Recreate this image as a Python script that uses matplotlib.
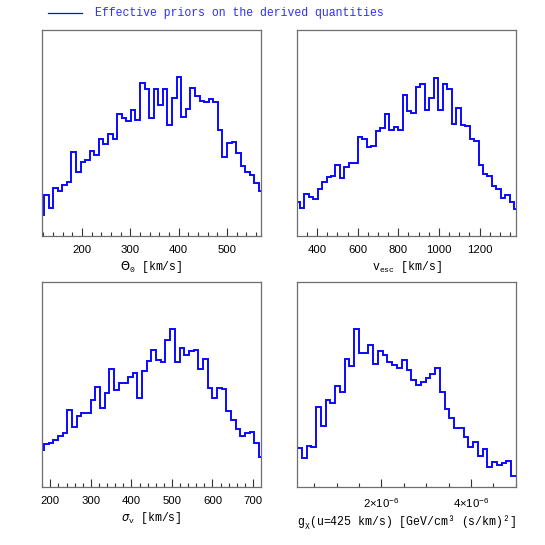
import numpy as np
import matplotlib
matplotlib.use("Agg")
import matplotlib.pyplot as plt
from matplotlib.ticker import MultipleLocator, FixedLocator, FuncFormatter

# histogram heights (arbitrary units)
theta0_counts = [64, 124, 84, 145, 134, 152, 162, 252, 192, 222, 227, 255, 242, 292, 275,
                 307, 290, 364, 352, 345, 377, 347, 457, 440, 352, 440, 392, 440, 332, 414,
                 475, 357, 380, 442, 420, 405, 402, 409, 402, 317, 236, 280, 282, 249, 209,
                 192, 184, 160, 135]
vesc_counts = [102, 85, 125, 115, 110, 140, 160, 177, 180, 212, 172, 207, 219, 219, 295,
               290, 265, 268, 313, 323, 365, 317, 325, 317, 422, 373, 367, 445, 455, 375,
               413, 473, 377, 455, 440, 333, 383, 330, 328, 290, 285, 212, 185, 180, 150,
               140, 112, 122, 102, 80]
sigmav_counts = [112, 130, 132, 142, 152, 163, 230, 180, 212, 222, 222, 262, 300, 238, 283,
                 355, 290, 313, 313, 330, 343, 268, 348, 377, 412, 380, 375, 440, 475, 375,
                 417, 395, 408, 410, 353, 385, 298, 267, 297, 295, 228, 200, 173, 152, 162,
                 165, 133, 90]
gchi_counts = [117, 87, 124, 119, 240, 182, 261, 251, 302, 284, 382, 362, 472, 400, 400,
               424, 367, 407, 394, 375, 364, 357, 379, 350, 320, 305, 315, 327, 337, 357,
               285, 232, 205, 177, 175, 150, 119, 135, 92, 115, 59, 74, 67, 72, 77, 32]

# binning (first edge, bin width) and plotted x ranges
theta0_bins = (111.7, 9.47)
vesc_bins = (292.6, 22.0)
sigmav_bins = (172.8, 11.53)
gchi_range = (0.112e-6, 5.007e-6)

theta0_xlim = (117, 570.5)
vesc_xlim = (301.4, 1379)
sigmav_xlim = (179.4, 719.8)

blue = '#0a0aff'
mono = 'Liberation Mono'
sans = 'Liberation Sans'
plt.rcParams['mathtext.fontset'] = 'dejavusans'

fig = plt.figure(figsize=(5.45, 5.45), dpi=100)

W = 219 / 545
H = 206 / 545
pos = {
    'a': [42 / 545, 1 - 236 / 545, W, H],
    'b': [297 / 545, 1 - 236 / 545, W, H],
    'c': [42 / 545, 1 - 487 / 545, W, 205 / 545],
    'd': [297 / 545, 1 - 487 / 545, W, 205 / 545],
}


def style(ax, major, minor):
    for s in ax.spines.values():
        s.set_color('#6e6e6e')
        s.set_linewidth(0.9)
    ax.set_yticks([])
    ax.xaxis.set_major_locator(major)
    ax.xaxis.set_minor_locator(minor)
    ax.tick_params(axis='x', which='both', direction='in', top=False,
                   color='#333333', width=0.8, labelsize=8.2, pad=6.5)
    ax.tick_params(axis='x', which='major', length=5.8)
    ax.tick_params(axis='x', which='minor', length=2.9)
    for lab in ax.get_xticklabels():
        lab.set_fontfamily(sans)


def edges_from(start, width, n):
    return start + width * np.arange(n + 1)


# panel 1
ax1 = fig.add_axes(pos['a'])
ax1.stairs(theta0_counts, edges_from(*theta0_bins, len(theta0_counts)),
           color=blue, lw=1.4, baseline=None)
ax1.set_xlim(*theta0_xlim)
ax1.set_ylim(0, 617)
style(ax1, MultipleLocator(100), MultipleLocator(20))
ax1.set_xlabel(r'$\Theta_\mathregular{0}$ [km/s]', family=mono, fontsize=8.3, labelpad=3)

# panel 2
ax2 = fig.add_axes(pos['b'])
ax2.stairs(vesc_counts, edges_from(*vesc_bins, len(vesc_counts)),
           color=blue, lw=1.4, baseline=None)
ax2.set_xlim(*vesc_xlim)
ax2.set_ylim(0, 615)
style(ax2, MultipleLocator(200), MultipleLocator(50))
ax2.set_xlabel(r'$\mathregular{v_{esc}}$ [km/s]', family=mono, fontsize=8.3, labelpad=3)

# panel 3
ax3 = fig.add_axes(pos['c'])
ax3.stairs(sigmav_counts, edges_from(*sigmav_bins, len(sigmav_counts)),
           color=blue, lw=1.4, baseline=None)
ax3.set_xlim(*sigmav_xlim)
ax3.set_ylim(0, 615)
style(ax3, MultipleLocator(100), MultipleLocator(20))
ax3.set_xlabel(r'$\sigma_\mathregular{v}$ [km/s]', family=mono, fontsize=8.3, labelpad=3)

# panel 4
ax4 = fig.add_axes(pos['d'])
g_edges = np.linspace(gchi_range[0], gchi_range[1], len(gchi_counts) + 1)
ax4.stairs(gchi_counts, g_edges, color=blue, lw=1.4, baseline=None)
ax4.set_xlim(*gchi_range)
ax4.set_ylim(0, 613)
style(ax4, FixedLocator([2e-6, 4e-6]), MultipleLocator(0.5e-6))
ax4.xaxis.set_major_formatter(FuncFormatter(
    lambda v, p: r'$\mathregular{%d{\times}10^{-6}}$' % round(v * 1e6)))
for lab in ax4.get_xticklabels():
    lab.set_fontfamily(sans)
ax4.set_xlabel(r'$\mathregular{g_\chi}$(u=425 km/s) [GeV/cm³ (s/km)²]',
               family=mono, fontsize=8.3, labelpad=3)

# legend-like header
fig.add_artist(plt.Line2D([48 / 545, 82 / 545], [1 - 13 / 545, 1 - 13 / 545],
                          color=blue, lw=0.9))
fig.text(95 / 545, 1 - 13 / 545, 'Effective priors on the derived quantities',
         family=mono, fontsize=8.3, color='#2f2fff', va='center', ha='left')

fig.savefig('out.png', dpi=100)
